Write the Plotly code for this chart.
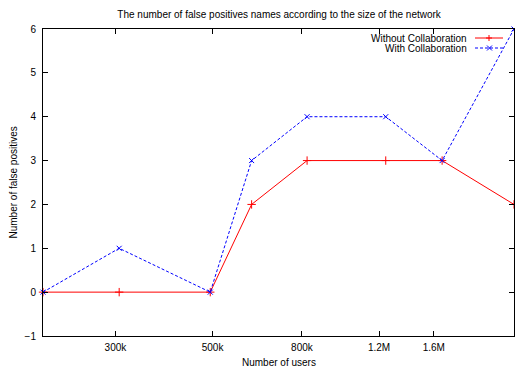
import plotly.graph_objects as go
import math

users = [205000, 306000, 494000, 614000, 822000, 1243000, 1672000, 2440000]
without_collab = [0, 0, 0, 2, 3, 3, 3, 2]
with_collab = [0, 1, 0, 3, 4, 4, 3, 6]
tick_vals = [300000, 500000, 800000, 1200000, 1600000]
tick_text = ["300k", "500k", "800k", "1.2M", "1.6M"]
y_ticks = [-1, 0, 1, 2, 3, 4, 5, 6]

FONT = "Liberation Sans, Arial, Helvetica, sans-serif"

fig = go.Figure()
fig.add_trace(go.Scatter(
    x=users, y=without_collab, mode="lines+markers", name="Without Collaboration",
    line=dict(color="#ff0000", width=1),
    marker=dict(symbol="cross-thin", size=6, line=dict(color="#ff0000", width=1)),
    cliponaxis=False, showlegend=False))
fig.add_trace(go.Scatter(
    x=users, y=with_collab, mode="lines+markers", name="With Collaboration",
    line=dict(color="#0000ff", width=1, dash="3px,2px"),
    marker=dict(symbol="x-thin", size=5, line=dict(color="#0000ff", width=1)),
    cliponaxis=False, showlegend=False))

axis_common = dict(showline=True, linecolor="black", linewidth=1, mirror="allticks",
                   ticks="inside", ticklen=5, tickcolor="black", tickwidth=1,
                   showgrid=False, zeroline=False, automargin=False,
                   tickfont=dict(family=FONT, size=10, color="black"))

fig.update_xaxes(type="log", range=[math.log10(users[0]), math.log10(users[-1])],
                 tickvals=tick_vals, ticktext=tick_text, ticklabelstandoff=2,
                 **axis_common)
fig.update_yaxes(range=[-1, 6], tickvals=y_ticks, ticklabelstandoff=4,
                 **axis_common)

# axis titles
fig.add_annotation(text="Number of users", xref="paper", yref="paper", x=0.5, y=0,
                   xanchor="center", yanchor="middle", yshift=-26, showarrow=False,
                   font=dict(family=FONT, size=10, color="black"))
fig.add_annotation(text="Number of false positives", xref="paper", yref="paper", x=0, y=0.5,
                   xanchor="center", yanchor="middle", xshift=-30, textangle=-90, showarrow=False,
                   font=dict(family=FONT, size=10, color="black"))

# gnuplot-style key: text, then sample line with marker
legend_rows = [("Without Collaboration", "#ff0000", "solid", "plus"),
               ("With Collaboration", "#0000ff", "dash", "x")]
for i, (label, color, dash, mk) in enumerate(legend_rows):
    yoff = -9 - 10 * i
    fig.add_annotation(text=label, xref="paper", yref="paper", x=1, y=1,
                       xanchor="right", yanchor="middle", xshift=-45, yshift=yoff,
                       showarrow=False, font=dict(family=FONT, size=10, color="black"))
    fig.add_shape(type="line", xref="paper", yref="paper", xsizemode="pixel", ysizemode="pixel",
                  xanchor=1, yanchor=1, x0=-39, x1=-11, y0=yoff, y1=yoff,
                  line=dict(color=color, width=1, dash="solid" if dash == "solid" else "3px,2px"))
    if mk == "plus":
        path = f"M -28 {yoff} L -22 {yoff} M -25 {yoff-3} L -25 {yoff+3}"
    else:
        path = f"M -27 {yoff-2.5} L -22 {yoff+2.5} M -27 {yoff+2.5} L -22 {yoff-2.5}"
    fig.add_shape(type="path", xref="paper", yref="paper", xsizemode="pixel", ysizemode="pixel",
                  xanchor=1, yanchor=1, path=path, line=dict(color=color, width=1))

fig.update_layout(
    width=515, height=369,
    margin=dict(l=43, r=1, t=29, b=33),
    paper_bgcolor="white", plot_bgcolor="white",
    hovermode=False,
    title=dict(text="The number of false positives names according to the size of the network",
               x=0.542, xanchor="center", y=0.962, yanchor="middle",
               font=dict(family=FONT, size=10, color="black")),
    showlegend=False,
)

# remove the default 8px page margin so the figure fills the window exactly
fig.write_html("out.html",
               config=dict(displayModeBar=False, staticPlot=True),
               post_script="document.body.style.margin='0';document.body.style.overflow='hidden';")
